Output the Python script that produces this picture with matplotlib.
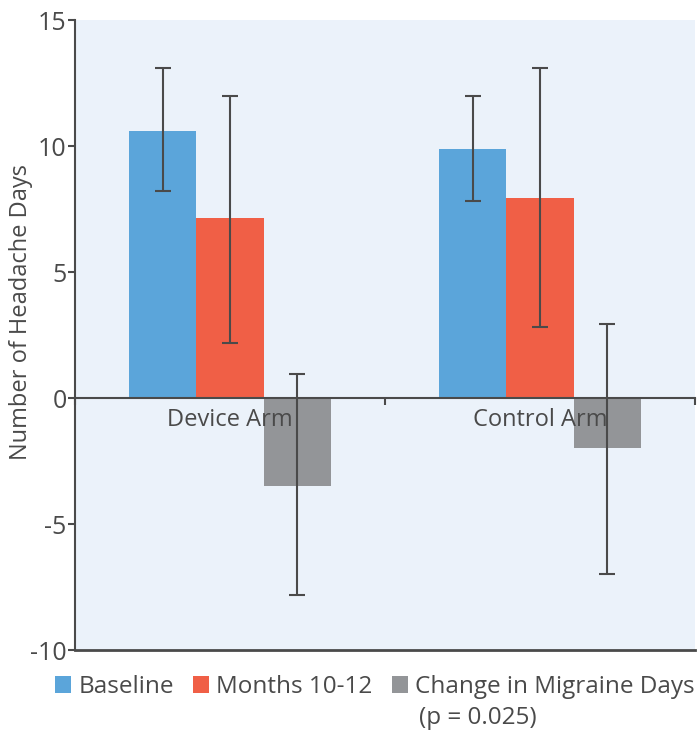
import matplotlib
matplotlib.use("Agg")
import matplotlib.pyplot as plt
import numpy as np
from matplotlib.ticker import FixedLocator

plt.rcParams['font.family'] = ['Open Sans', 'DejaVu Sans']

categories = ["Device Arm", "Control Arm"]
series = ["Baseline", "Months 10-12", "Change in Migraine Days"]
values = {
    "Baseline": [10.6, 9.9],
    "Months 10-12": [7.15, 7.95],
    "Change in Migraine Days": [-3.5, -2.0],
}
err_low = {
    "Baseline": [8.2, 7.8],
    "Months 10-12": [2.2, 2.8],
    "Change in Migraine Days": [-7.8, -7.0],
}
err_high = {
    "Baseline": [13.1, 12.0],
    "Months 10-12": [12.0, 13.1],
    "Change in Migraine Days": [0.95, 2.95],
}
colors = ["#5BA5DA", "#F05F46", "#939598"]
yticks = [-10, -5, 0, 5, 10, 15]

tc = "#4a4a4a"
fs = 17
fig = plt.figure(figsize=(6.98, 7.31), dpi=100)
ax = fig.add_axes([75/698, 1-650/731, 620/698, 630/731])
ax.set_facecolor("#EBF2FA")

x = np.arange(len(categories))
w = 0.217
handles = []
for i, s in enumerate(series):
    xs = x + (i - 1) * w
    v = np.array(values[s])
    b = ax.bar(xs, v, width=w, color=colors[i], zorder=2)
    handles.append(b)
    lo = v - np.array(err_low[s])
    hi = np.array(err_high[s]) - v
    ax.errorbar(xs, v, yerr=[lo, hi], fmt='none', ecolor=tc, elinewidth=1.5,
                capsize=6, capthick=1.5, zorder=6)

ax.set_xlim(-0.5, 1.5)
ax.set_ylim(-10, 15)
ax.set_yticks(yticks)
ax.set_yticklabels([str(t) for t in yticks])
ax.set_xticks(x)
ax.set_xticklabels(categories)
ax.xaxis.set_minor_locator(FixedLocator([-0.5, 0.5, 1.5]))
ax.tick_params(axis='x', which='major', length=0, pad=7, labelsize=fs, labelcolor=tc)
ax.tick_params(axis='x', which='minor', length=5, width=1.5, color=tc, direction='out')
ax.tick_params(axis='y', length=5, width=1.5, color=tc, pad=1, labelsize=fs + 1, labelcolor=tc)
ax.xaxis.set_zorder(5)

ax.spines['top'].set_visible(False)
ax.spines['right'].set_visible(False)
ax.spines['left'].set_color(tc)
ax.spines['left'].set_linewidth(1.5)
ax.spines['bottom'].set_position(('data', 0))
ax.spines['bottom'].set_color(tc)
ax.spines['bottom'].set_linewidth(1.5)
ax.spines['bottom'].set_zorder(3)
ax.axhline(-10, color=tc, lw=2.0, clip_on=False, zorder=3)

ax.set_ylabel("Number of Headache Days", fontsize=fs, color=tc)
ax.yaxis.set_label_coords(-0.0677, 0.5365)

leg = fig.legend(handles, series, loc='center', bbox_to_anchor=(375/698, 1-687/731),
                 ncol=3, frameon=False, fontsize=17.5, handlelength=0.65, handleheight=0.65,
                 handletextpad=0.3, columnspacing=0.8, labelcolor=tc)

fig.canvas.draw()
txt = leg.get_texts()[2]
bb = txt.get_window_extent()
inv = fig.transFigure.inverted()
x0, y0 = inv.transform((bb.x0, bb.y0))
fig.text(x0 + 0.006, y0 - 0.010, "(p = 0.025)", fontsize=17.5, color=tc, ha='left', va='top')

fig.savefig("out.png", dpi=100)
